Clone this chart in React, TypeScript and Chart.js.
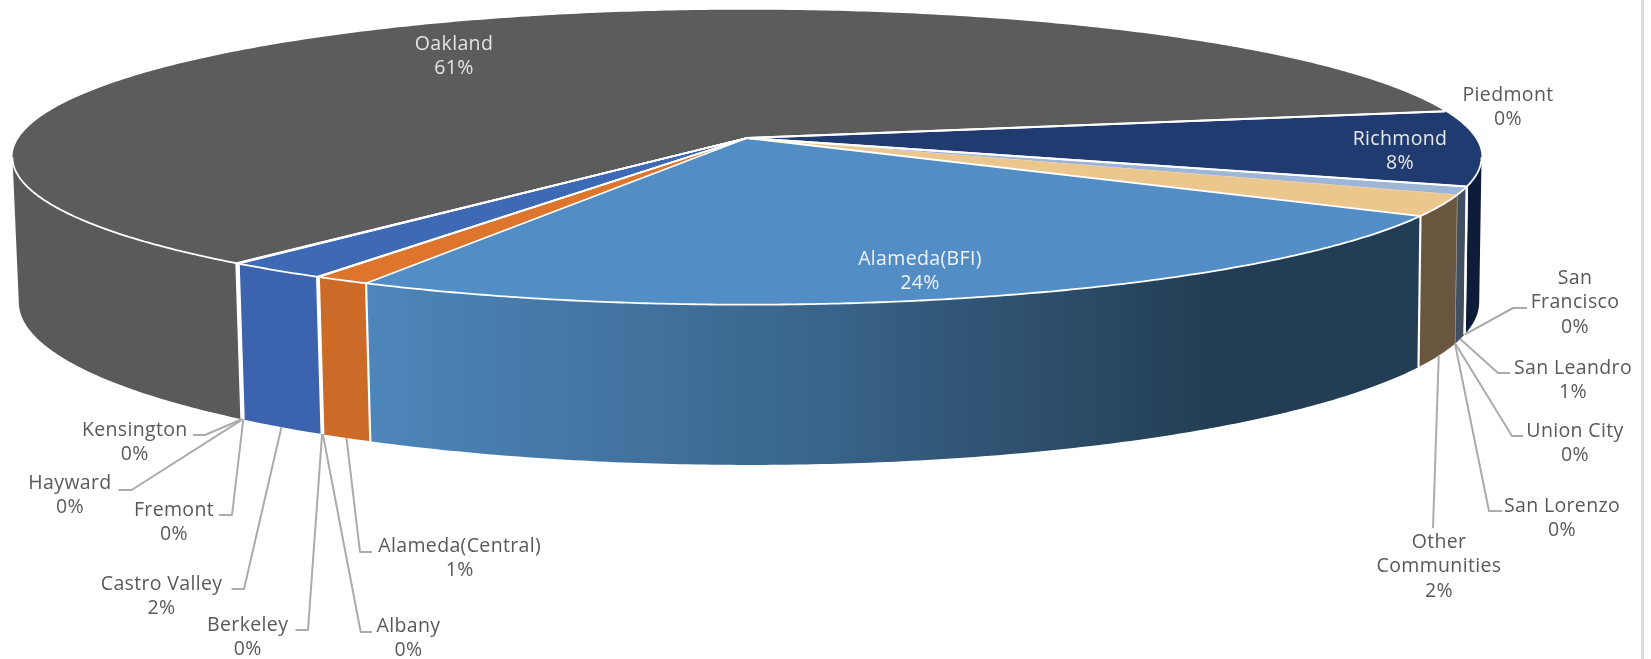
import React, { useEffect, useRef } from "react";
import { Chart, registerables } from "chart.js";

Chart.register(...registerables);

// ---------- data ----------
const categories = [
  "Alameda(BFI)", "Alameda(Central)", "Albany", "Berkeley", "Castro Valley", "Fremont", "Hayward", "Kensington",
  "Oakland", "Piedmont", "Richmond", "San Francisco", "San Leandro", "Union City", "San Lorenzo", "Other Communities",
];
const shares = [24.3, 1.1, 0.02, 0.02, 2.0, 0.02, 0.02, 0.02, 61.2, 0.02, 8.2, 0.02, 0.85, 0.02, 0.02, 2.3];

// ---------- styles ----------
const topColors = [
  "#528EC5", "#DD752D", "#A5A5A5", "#FFC000", "#3D69B5", "#70AD47", "#264478", "#9E480E",
  "#5C5C5C", "#997300", "#203B70", "#43682B", "#9DB6D8", "#F1975A", "#B7B7B7", "#EBC78D",
];
const wallColors = [
  "gradient", "#CC6B28", "#8E8E8E", "#D0A000", "#3C64AE", "#5F933C", "#1F3862", "#823B0B",
  "#5A5A5A", "#7F6000", "#0D1C38", "#385723", "#414F61", "#414F61", "#6A563E", "#6A563E",
];
// slices whose starting edge shows no white line in the picture
const edgeless = ["Union City", "San Lorenzo", "Other Communities"];

// ---------- projection of the tilted disc ----------
const K = 0.13;
const TOP = { cx: 747, cy: 138, r: 728.3, s: 145 };
const BOTTOM = { cx: 749, cy: 281, r: 724, s: 160 };
const project = (d: typeof TOP, a: number) => {
  const u = Math.cos(a), v = Math.sin(a), w = 1 - K * v;
  return { x: d.cx + (d.r * u) / w, y: d.cy + (d.s * v) / w };
};
const WALL_MIN = Math.asin(K);
const WALL_MAX = Math.PI - WALL_MIN;

// ---------- label layout ----------
type Lab = { lines: string[]; x: number; y: number; color?: string; leader?: [number, number][] };
const labelLayout: Record<string, Lab> = {
  "Alameda(BFI)": { lines: ["Alameda(BFI)"], x: 920, y: 259, color: "#F2F2F2" },
  "Alameda(Central)": { lines: ["Alameda(Central)"], x: 459.7, y: 546, leader: [[372, 552], [360, 552]] },
  Albany: { lines: ["Albany"], x: 408.4, y: 626, leader: [[372, 632], [360.7, 632]] },
  Berkeley: { lines: ["Berkeley"], x: 247.7, y: 625, leader: [[295.5, 630], [308, 630]] },
  "Castro Valley": { lines: ["Castro Valley"], x: 161.6, y: 584, leader: [[231.6, 589], [244, 589]] },
  Fremont: { lines: ["Fremont"], x: 174, y: 510, leader: [[219, 515], [232, 515]] },
  Hayward: { lines: ["Hayward"], x: 70, y: 483, leader: [[118.6, 490], [131.6, 490]] },
  Kensington: { lines: ["Kensington"], x: 134.8, y: 430, leader: [[193, 435], [205, 435]] },
  Oakland: { lines: ["Oakland"], x: 454, y: 44, color: "#E4E4E4" },
  Piedmont: { lines: ["Piedmont"], x: 1508, y: 95 },
  Richmond: { lines: ["Richmond"], x: 1400, y: 139, color: "#E8E8E8" },
  "San Francisco": { lines: ["San", "Francisco"], x: 1575, y: 278, leader: [[1527, 308], [1513, 308]] },
  "San Leandro": { lines: ["San Leandro"], x: 1573, y: 368, leader: [[1510, 373], [1498, 373]] },
  "Union City": { lines: ["Union City"], x: 1575, y: 431, leader: [[1523, 436], [1512, 436]] },
  "San Lorenzo": { lines: ["San Lorenzo"], x: 1562, y: 506, leader: [[1502, 511], [1489, 511]] },
  "Other Communities": { lines: ["Other", "Communities"], x: 1439, y: 542, leader: [[1433, 528], [1433, 528]] },
};

const LINE_H = 24.7;
const FONT = '19.5px "Open Sans"';

const pie3d = {
  id: "pie3d",
  beforeDatasetsDraw(chart: any) {
    const { ctx } = chart;
    const arcs = chart.getDatasetMeta(0).data;
    const ds = chart.data.datasets[0];
    const total = ds.data.reduce((a: number, b: number) => a + b, 0);
    const angles = arcs.map((arc: any) => {
      const p = arc.getProps(["startAngle", "endAngle"], true);
      return [p.startAngle, p.endAngle];
    });

    ctx.save();
    ctx.lineJoin = "round";

    // outer frame line at the right edge of the picture
    ctx.fillStyle = "#DCDCDC";
    ctx.fillRect(1641, 0, 3, 659);

    // side walls
    angles.forEach(([s, e]: number[], i: number) => {
      for (const shift of [0, 2 * Math.PI, -2 * Math.PI]) {
        const a0 = Math.max(s + shift, WALL_MIN);
        const a1 = Math.min(e + shift, WALL_MAX);
        if (a1 <= a0) continue;
        const n = Math.max(2, Math.ceil((a1 - a0) / 0.01));
        ctx.beginPath();
        for (let j = 0; j <= n; j++) {
          const p = project(TOP, a0 + ((a1 - a0) * j) / n);
          j ? ctx.lineTo(p.x, p.y) : ctx.moveTo(p.x, p.y);
        }
        for (let j = n; j >= 0; j--) {
          const p = project(BOTTOM, a0 + ((a1 - a0) * j) / n);
          ctx.lineTo(p.x, p.y);
        }
        ctx.closePath();
        if (wallColors[i] === "gradient") {
          const g = ctx.createLinearGradient(369, 0, 1210, 0);
          g.addColorStop(0, "#4D86BA");
          g.addColorStop(0.5, "#3B678E");
          g.addColorStop(1, "#233E54");
          ctx.fillStyle = g;
        } else {
          ctx.fillStyle = wallColors[i];
        }
        ctx.fill();
      }
    });
    // vertical edges between slices
    angles.forEach(([s]: number[], i: number) => {
      if (edgeless.includes(categories[i])) return;
      const a = ((s % (2 * Math.PI)) + 2 * Math.PI) % (2 * Math.PI);
      if (a < WALL_MIN || a > WALL_MAX) return;
      const p = project(TOP, a), q = project(BOTTOM, a);
      ctx.beginPath(); ctx.moveTo(p.x, p.y); ctx.lineTo(q.x, q.y);
      ctx.strokeStyle = "#FFFFFF";
      ctx.lineWidth = 2.2;
      ctx.stroke();
    });

    // top faces
    angles.forEach(([s, e]: number[], i: number) => {
      const n = Math.max(2, Math.ceil((e - s) / 0.01));
      ctx.beginPath();
      ctx.moveTo(TOP.cx, TOP.cy);
      for (let j = 0; j <= n; j++) {
        const p = project(TOP, s + ((e - s) * j) / n);
        ctx.lineTo(p.x, p.y);
      }
      ctx.closePath();
      ctx.fillStyle = ds.backgroundColor[i];
      ctx.fill();
    });
    angles.forEach(([s]: number[], i: number) => {
      if (edgeless.includes(categories[i])) return;
      const a = project(TOP, s);
      ctx.beginPath();
      ctx.moveTo(TOP.cx, TOP.cy);
      ctx.lineTo(a.x, a.y);
      ctx.strokeStyle = "#FFFFFF";
      ctx.lineWidth = 1.8;
      ctx.stroke();
    });
    // rim
    ctx.beginPath();
    for (let j = 0; j <= 400; j++) {
      const p = project(TOP, WALL_MIN + ((WALL_MAX - WALL_MIN) * j) / 400);
      j ? ctx.lineTo(p.x, p.y) : ctx.moveTo(p.x, p.y);
    }
    ctx.strokeStyle = "#FFFFFF";
    ctx.lineWidth = 1.8;
    ctx.stroke();

    // leaders and labels
    ctx.font = FONT;
    ctx.letterSpacing = "0.35px";
    ctx.textAlign = "center";
    ctx.textBaseline = "middle";
    categories.forEach((name, i) => {
      const lab = labelLayout[name];
      const [s, e] = angles[i];
      if (lab.leader) {
        const anchor = project(BOTTOM, (s + e) / 2);
        ctx.beginPath();
        ctx.moveTo(lab.leader[0][0], lab.leader[0][1]);
        ctx.lineTo(lab.leader[1][0], lab.leader[1][1]);
        ctx.lineTo(anchor.x, anchor.y);
        ctx.strokeStyle = "#ABABAB";
        ctx.lineWidth = 2;
        ctx.stroke();
      }
      ctx.fillStyle = lab.color || "#595959";
      const pct = Math.round((ds.data[i] / total) * 100) + "%";
      [...lab.lines, pct].forEach((t, k) => ctx.fillText(t, lab.x, lab.y + k * LINE_H));
    });
    ctx.restore();
    return false;
  },
};

export default function App() {
  const ref = useRef<HTMLCanvasElement>(null);
  useEffect(() => {
    const chart = new Chart(ref.current!, {
      type: "pie",
      data: {
        labels: categories,
        datasets: [{ data: shares, backgroundColor: topColors, borderColor: "#FFFFFF", borderWidth: 2 }],
      },
      options: {
        animation: false,
        responsive: false,
        rotation: 120.2,
        plugins: { legend: { display: false }, tooltip: { enabled: false } },
      },
      plugins: [pie3d],
    } as any);
    return () => chart.destroy();
  }, []);
  return (
    <div style={{ position: "absolute", left: 0, top: 0, width: 1651, height: 659, background: "#fff" }}>
      <canvas ref={ref} width={1651} height={659} style={{ display: "block" }} />
    </div>
  );
}
